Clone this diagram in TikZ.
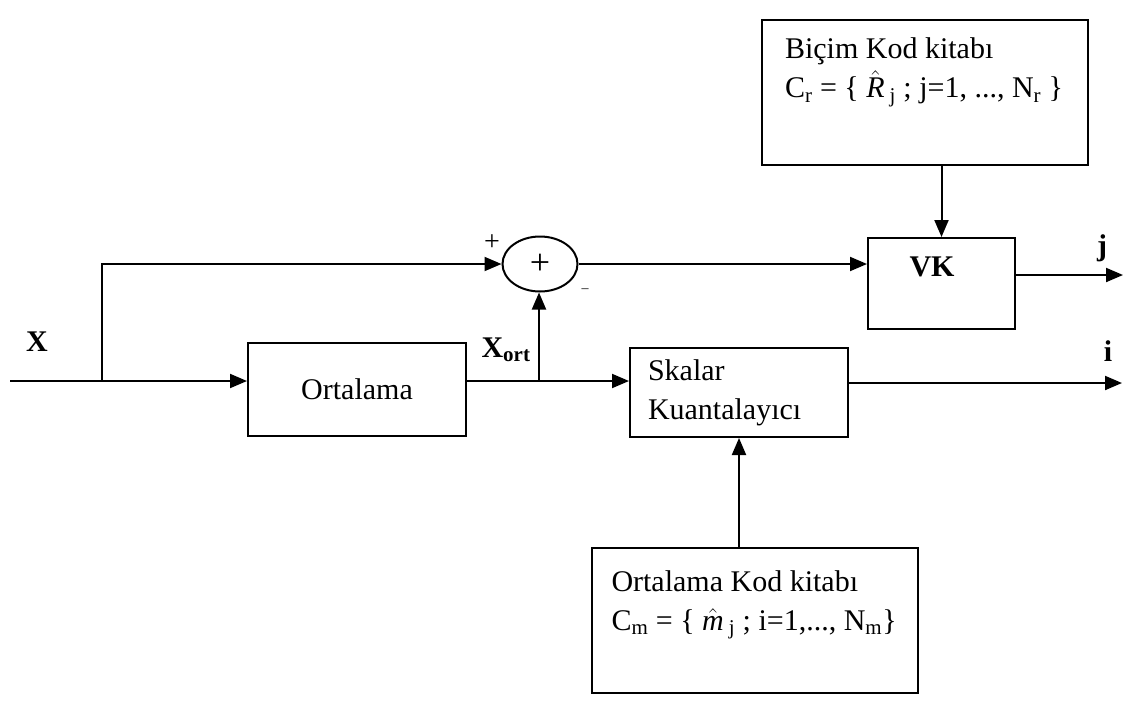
\documentclass[tikz,border=0pt]{standalone}
\usepackage{fix-cm}
\usepackage{fontspec}
\setmainfont{Liberation Serif}
\usetikzlibrary{arrows.meta,shapes.geometric}

\begin{document}
\begin{tikzpicture}[x=1pt, y=-1pt, line width=2pt,
  >={Triangle[length=17pt,width=14pt]},
  every node/.style={font=\fontsize{30}{39}\selectfont, inner sep=0pt},
  kutu/.style={draw, rectangle},
  kodkutu/.style={kutu, minimum width=326pt, minimum height=145pt}]
  \useasboundingbox (0,0) rectangle (1143,707);
  % kod kitaplari
  \node[kodkutu] (bicim) at (925,92.5) {};
  \node[anchor=north west, align=left] (bicimtxt) at ([shift={(23,18)}]bicim.north west)
    {Biçim Kod kitabı\\C\textsubscript{r} = \{ $\hat{\textit{R}}$\,\textsubscript{j} ; j=1, ..., N\textsubscript{r} \}};
  \node[kodkutu] (ortkod) at (754.5,620) {};
  \node[anchor=north west, align=left] (ortkodtxt) at ([shift={(20,23)}]ortkod.north west)
    {Ortalama Kod kitabı\\C\textsubscript{m} = \{ $\hat{\textit{m}}$\,\textsubscript{j} ; i=1,..., N\textsubscript{m}\}};
  % bloklar
  \node[kutu, minimum width=218pt, minimum height=93pt] (ort) at (357,389.5) {Ortalama};
  \node[kutu, minimum width=218pt, minimum height=89pt, align=left, text width=182pt] (skalar) at (739,392.5) {Skalar\\Kuantalayıcı};
  \node[kutu, minimum width=147pt, minimum height=91pt] (vk) at (941.5,283.5) {};
  \node[font=\fontsize{30}{39}\selectfont\bfseries] (vktxt) at (932,267) {VK};
  \node[draw, ellipse, minimum width=75pt, minimum height=55pt] (sum) at (540,264) {};
  \node[font=\fontsize{36}{40}\selectfont] (plus) at (sum) {+};
  % etiketler
  \node[font=\fontsize{30}{39}\selectfont\bfseries] (xlbl) at (37,342) {X};
  \node (xortlbl) at (506,350) {\textbf{X\textsubscript{ort}}};
  \node (jlbl) at (1102,248) {\textbf{j}};
  \node (ilbl) at (1108,351) {\textbf{i}};
  \node[font=\fontsize{28}{30}\selectfont] (plbl) at (492,243) {+};
  \node[font=\fontsize{14}{16}\selectfont] (mlbl) at (585,291) {--};
  % baglantilar
  \coordinate (xin) at (10,381);
  \coordinate (split) at (102,381);
  \coordinate (xort) at (539,381);
  \coordinate (jout) at (1123,275);
  \coordinate (iout) at (1122,383);
  \draw[->] (xin) -- (ort.west |- xin);
  \draw[->] (split) |- (sum.west);
  \draw (ort.east |- xort) -- (xort);
  \draw[->] (xort) -- (skalar.west |- xort);
  \draw[->] (xort) -- (sum.south -| xort);
  \draw[->] (sum.east) -- (vk.west |- sum.east);
  \draw[->] (vk.east |- jout) -- (jout);
  \draw[->] (skalar.east |- iout) -- (iout);
  \draw[->] (bicim.south -| vk.north) -- (vk.north);
  \draw[->] (ortkod.north -| skalar.south) -- (skalar.south);
\end{tikzpicture}
\end{document}
